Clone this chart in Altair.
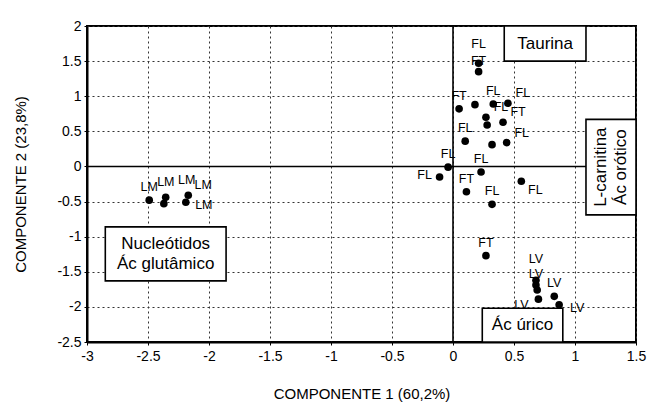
import altair as alt
import pandas as pd

# ---- scores ----
pc1 = [-2.49, -2.37, -2.355, -2.19, -2.17,
       0.21, 0.21, 0.05, 0.18, 0.33, 0.45, 0.27, 0.28, 0.41, 0.10, 0.32, 0.44,
       -0.04, -0.11, 0.23, 0.11, 0.56, 0.32, 0.27,
       0.68, 0.68, 0.69, 0.70, 0.83, 0.87]
pc2 = [-0.48, -0.53, -0.44, -0.51, -0.41,
       1.47, 1.35, 0.82, 0.88, 0.89, 0.90, 0.70, 0.59, 0.63, 0.36, 0.31, 0.34,
       -0.01, -0.15, -0.08, -0.36, -0.21, -0.54, -1.27,
       -1.62, -1.69, -1.76, -1.89, -1.85, -1.97]
labels = ["LM", "LM", "LM", "LM", "LM",
          "FL", "FT", "FT", "", "FL", "FL", "FL", "", "FT", "FL", "", "FL",
          "FL", "FL", "FL", "FT", "FL", "FL", "FT",
          "LV", "LV", "", "LV", "LV", "LV"]
placement = ["a", "a2", "ar2", "r", "ar",
             "a3", "a5", "a", "a", "a", "ar", "ar", "a", "ar", "a", "a", "ar",
             "a", "l", "a", "a", "br", "a", "a",
             "a4", "a5", "a", "bl", "a", "r"]

# ---- annotation boxes (data units) ----
box_text = ["Taurina", "L-carnitina\nÁc orótico", "Nucleótidos\nÁc glutâmico", "Ác úrico"]
box_x1 = [0.42, 1.09, -2.85, 0.24]
box_x2 = [1.09, 1.50, -1.86, 0.90]
box_y1 = [1.50, -0.69, -1.63, -2.50]
box_y2 = [2.00, 0.67, -0.86, -2.02]
box_rot = ["h", "v", "h", "h"]

x_ticks = [-3, -2.5, -2, -1.5, -1, -0.5, 0, 0.5, 1, 1.5]
y_ticks = [-2.5, -2, -1.5, -1, -0.5, 0, 0.5, 1, 1.5, 2]

pts = pd.DataFrame({"pc1": pc1, "pc2": pc2, "lab": labels, "pos": placement})
boxes = pd.DataFrame({"t": box_text, "x1": box_x1, "x2": box_x2,
                      "y1": box_y1, "y2": box_y2, "rot": box_rot})
boxes["cx"] = (boxes.x1 + boxes.x2) / 2
boxes["cy"] = (boxes.y1 + boxes.y2) / 2
boxes["lines"] = boxes.t.str.count("\n") + 1
zero = pd.DataFrame({"z": [0]})

FONT = "Liberation Sans"
xsc = alt.Scale(domain=[-3, 1.5], nice=False, zero=False)
ysc = alt.Scale(domain=[-2.5, 2], nice=False, zero=False)
xax = alt.Axis(values=x_ticks, title="COMPONENTE 1 (60,2%)", labelExpr="'' + datum.value",
               grid=True, gridDash=[2, 3], gridColor="#333", gridWidth=1,
               labelFlush=False, labelFontSize=14, labelFont=FONT, labelColor="black",
               tickSize=3, tickColor="black", domainColor="black", domainWidth=2,
               titleFont=FONT, titleFontSize=15, titleFontWeight="normal",
               titleColor="black", titlePadding=23, labelPadding=4)
yax = alt.Axis(values=y_ticks, title="COMPONENTE 2 (23,8%)", labelExpr="'' + datum.value",
               grid=True, gridDash=[2, 3], gridColor="#333", gridWidth=1,
               labelFlush=False, labelFontSize=14, labelFont=FONT, labelColor="black",
               tickSize=3, tickColor="black", domainColor="black", domainWidth=2,
               titleFont=FONT, titleFontSize=15, titleFontWeight="normal",
               titleColor="black", titlePadding=28, labelPadding=3)

vline = alt.Chart(zero).mark_rule(color="black", strokeWidth=1.6).encode(
    x=alt.X("z:Q", scale=xsc, axis=xax))
hline = alt.Chart(zero).mark_rule(color="black", strokeWidth=1.6).encode(
    y=alt.Y("z:Q", scale=ysc, axis=yax))

rects = alt.Chart(boxes).mark_rect(fill="white", stroke="black", strokeWidth=1.6).encode(
    x=alt.X("x1:Q", scale=xsc, axis=xax), x2="x2:Q",
    y=alt.Y("y1:Q", scale=ysc, axis=yax), y2="y2:Q")

htext1 = alt.Chart(boxes).transform_filter("datum.rot == 'h' && datum.lines == 1").mark_text(
    font=FONT, fontSize=17, color="black", align="center", baseline="middle").encode(
    x=alt.X("cx:Q", scale=xsc, axis=xax), y=alt.Y("cy:Q", scale=ysc, axis=yax), text="t:N")
htext2 = alt.Chart(boxes).transform_filter("datum.rot == 'h' && datum.lines == 2").mark_text(
    font=FONT, fontSize=17, color="black", lineBreak="\n", lineHeight=20, dy=-10,
    align="center", baseline="middle").encode(
    x=alt.X("cx:Q", scale=xsc, axis=xax), y=alt.Y("cy:Q", scale=ysc, axis=yax), text="t:N")
# rotated text: dy acts in the rotated frame (negative = towards the left on screen)
vtext = alt.Chart(boxes).transform_filter("datum.rot == 'v'").mark_text(
    font=FONT, fontSize=17, color="black", lineBreak="\n", lineHeight=20, dy=-10,
    align="center", baseline="middle", angle=270).encode(
    x=alt.X("cx:Q", scale=xsc, axis=xax), y=alt.Y("cy:Q", scale=ysc, axis=yax), text="t:N")

dots = alt.Chart(pts).mark_circle(size=58, color="black", opacity=1).encode(
    x=alt.X("pc1:Q", scale=xsc, axis=xax), y=alt.Y("pc2:Q", scale=ysc, axis=yax))

offsets = {"a": (0, -13), "a2": (2, -22), "a3": (0, -19), "a4": (0, -21), "a5": (0, -11),
           "ar": (15, -10), "ar2": (21, -17), "r": (18, 3), "br": (14, 9),
           "l": (-15, -2), "bl": (-17, 6)}
label_layers = []
for key, (dx, dy) in offsets.items():
    label_layers.append(
        alt.Chart(pts).transform_filter(f"datum.pos == '{key}'").mark_text(
            font=FONT, fontSize=12.5, color="black", dx=dx, dy=dy,
            align="center", baseline="middle").encode(
            x=alt.X("pc1:Q", scale=xsc, axis=xax),
            y=alt.Y("pc2:Q", scale=ysc, axis=yax), text="lab:N"))

chart = alt.layer(vline, hline, rects, htext1, htext2, vtext, dots, *label_layers).properties(
    width=549, height=316,
    autosize=alt.AutoSizeParams(type="none"),
    padding={"left": 87, "top": 26, "right": 12, "bottom": 69},
    background="white",
).configure_view(stroke="black", strokeWidth=2)

chart.save("out.html", embed_options={"renderer": "svg", "actions": False})
